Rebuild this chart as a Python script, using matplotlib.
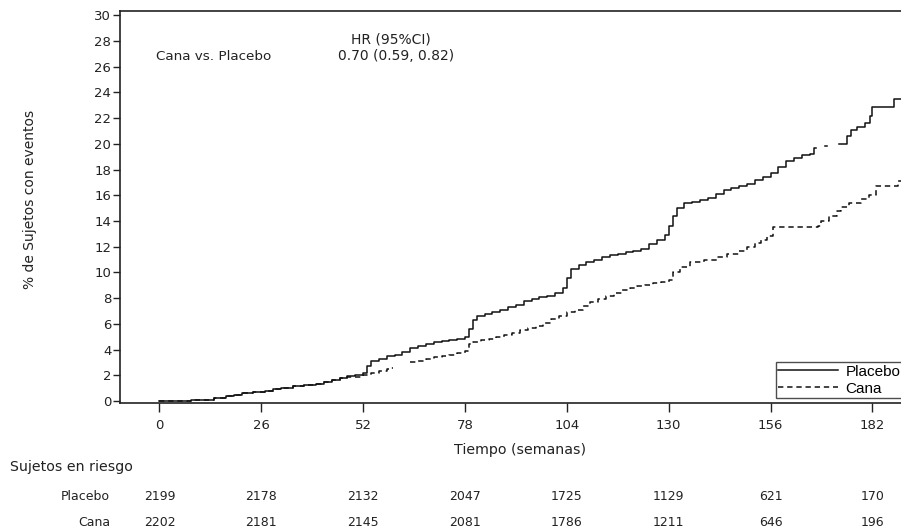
import numpy as np
import matplotlib
matplotlib.use("Agg")
import matplotlib.pyplot as plt

plt.rcParams['font.family'] = ['DejaVu Sans']

# curvas (semanas, % de sujetos con eventos)
placebo_t = [0, 4, 8, 11, 14, 17, 19, 21, 24, 27, 29, 31, 34, 37, 40, 42, 44, 46, 48, 50,
             52, 53, 54, 56, 58, 60, 62, 64, 66, 68, 70, 72, 74, 76, 78, 79, 80, 81, 83, 85,
             87, 89, 91, 93, 95, 97, 99, 101, 103, 104, 105, 107, 109, 111, 113, 115, 117, 119, 121, 123,
             125, 127, 129, 130, 131, 132, 134, 136, 138, 140, 142, 144, 146, 148, 150, 152, 154, 156, 158, 160,
             162, 164, 166, 167, 167.6, 169.8, 170.3, 173.5, 175.5, 176.5, 178, 180, 181.5, 182, 187.5, 200]
placebo_y = [0.0, 0.02, 0.05, 0.1, 0.2, 0.35, 0.5, 0.6, 0.7, 0.75, 0.9, 1.0, 1.15, 1.25, 1.35, 1.45, 1.6, 1.8, 1.95, 2.05,
             2.15, 2.7, 3.1, 3.3, 3.5, 3.6, 3.8, 4.1, 4.3, 4.45, 4.55, 4.65, 4.75, 4.85, 5.0, 5.6, 6.3, 6.6, 6.8, 6.9,
             7.1, 7.3, 7.5, 7.75, 7.95, 8.05, 8.15, 8.4, 8.8, 9.6, 10.3, 10.6, 10.8, 11.0, 11.2, 11.35, 11.45, 11.6, 11.7, 11.85,
             12.2, 12.5, 12.9, 13.6, 14.4, 15.0, 15.4, 15.5, 15.6, 15.8, 16.1, 16.4, 16.6, 16.7, 16.9, 17.2, 17.4, 17.7, 18.2, 18.7,
             18.9, 19.1, 19.2, 19.7, np.nan, 19.8, np.nan, 20.0, 20.6, 21.1, 21.3, 21.6, 22.2, 22.9, 23.5, 23.5]

cana_t = [0, 4, 8, 11, 14, 17, 19, 21, 24, 27, 29, 31, 34, 37, 40, 42, 44, 46, 48, 50,
          52, 54, 56, 58, 59, 59.6, 64, 66, 68, 70, 72, 74, 76, 78, 79, 80, 82, 84, 86, 88,
          90, 92, 94, 96, 98, 100, 102, 104, 106, 108, 110, 112, 114, 116, 118, 120, 122, 124, 126, 128,
          130, 131, 133, 135.5, 139, 142.4, 145, 148, 150, 152, 153.5, 155, 156.5, 168, 169, 171, 173, 174, 176, 179,
          181, 183, 188.5, 200]
cana_y = [0.0, 0.02, 0.05, 0.1, 0.2, 0.35, 0.45, 0.6, 0.7, 0.75, 0.9, 1.0, 1.15, 1.25, 1.35, 1.45, 1.6, 1.75, 1.85, 1.9,
          2.0, 2.2, 2.35, 2.5, 2.6, np.nan, 3.0, 3.1, 3.25, 3.4, 3.5, 3.6, 3.75, 3.9, 4.4, 4.6, 4.75, 4.85, 5.0, 5.1,
          5.3, 5.5, 5.7, 5.85, 6.1, 6.4, 6.6, 6.9, 7.1, 7.4, 7.7, 7.9, 8.2, 8.4, 8.6, 8.8, 8.95, 9.05, 9.15, 9.25,
          9.4, 10.0, 10.4, 10.8, 11.0, 11.2, 11.4, 11.7, 12.0, 12.3, 12.5, 12.8, 13.5, 13.6, 14.0, 14.4, 14.8, 15.1, 15.4, 15.7,
          16.0, 16.7, 17.1, 17.2]

semanas = [0, 26, 52, 78, 104, 130, 156, 182]
riesgo_placebo = [2199, 2178, 2132, 2047, 1725, 1129, 621, 170]
riesgo_cana = [2202, 2181, 2145, 2081, 1786, 1211, 646, 196]

fig = plt.figure(figsize=(9.01, 5.31), dpi=100)
ax = fig.add_axes([0.1335, 0.2405, 0.9, 0.7387])

ax.plot(placebo_t, placebo_y, drawstyle='steps-post', color='#111111', lw=1.1, label='Placebo')
ax.plot(cana_t, cana_y, drawstyle='steps-post', color='#111111', lw=1.1,
        linestyle=(0, (3.5, 2.5)), label='Cana')

ax.set_xlim(-10, 197)
ax.set_ylim(-0.18, 30.33)
ax.set_xticks(semanas)
ax.set_yticks(range(0, 31, 2))
ax.tick_params(axis='y', direction='out', length=5, width=1, pad=1.5, labelsize=9.5, colors='#222222')
ax.tick_params(axis='x', direction='out', length=6.5, width=1, pad=5, labelsize=9.5, colors='#222222')
for s in ax.spines.values():
    s.set_linewidth(1.2)
    s.set_color('#222222')

fig.text(30 / 901, 0.625, '% de Sujetos con eventos', rotation=90, ha='center', va='center',
         fontsize=10, color='#222222')
fig.text(520 / 901, 1 - 450 / 531, 'Tiempo (semanas)', ha='center', va='center',
         fontsize=10.2, color='#222222')

ax.text(13.7, 26.83, 'Cana vs. Placebo', ha='center', va='center', fontsize=9.7, color='#222222')
ax.text(59.1, 28.15, 'HR (95%CI)', ha='center', va='center', fontsize=10, color='#222222')
ax.text(60.4, 26.83, '0.70 (0.59, 0.82)', ha='center', va='center', fontsize=10, color='#222222')

leg = ax.legend(loc='lower left', bbox_to_anchor=(776 / 901, 1 - 398 / 531),
                bbox_transform=fig.transFigure, borderaxespad=0, frameon=True, fancybox=False,
                prop={'family': 'Liberation Sans', 'size': 11},
                handlelength=3.9, handletextpad=0.5, labelspacing=0.2, borderpad=0.15)
leg.get_frame().set_edgecolor('#222222')
leg.get_frame().set_linewidth(1.0)

# tabla de sujetos en riesgo
fig.text(10 / 901, 1 - 467 / 531, 'Sujetos en riesgo', ha='left', va='center', fontsize=10.2, color='#222222')
fig.text(110 / 901, 1 - 497 / 531, 'Placebo', ha='right', va='center', fontsize=9, color='#222222')
fig.text(110 / 901, 1 - 523 / 531, 'Cana', ha='right', va='center', fontsize=9, color='#222222')
for s, p, c in zip(semanas, riesgo_placebo, riesgo_cana):
    xf = fig.transFigure.inverted().transform(ax.transData.transform((s, 0)))[0]
    fig.text(xf, 1 - 497 / 531, str(p), ha='center', va='center', fontsize=9, color='#222222')
    fig.text(xf, 1 - 523 / 531, str(c), ha='center', va='center', fontsize=9, color='#222222')

fig.savefig('out.png', dpi=100)
